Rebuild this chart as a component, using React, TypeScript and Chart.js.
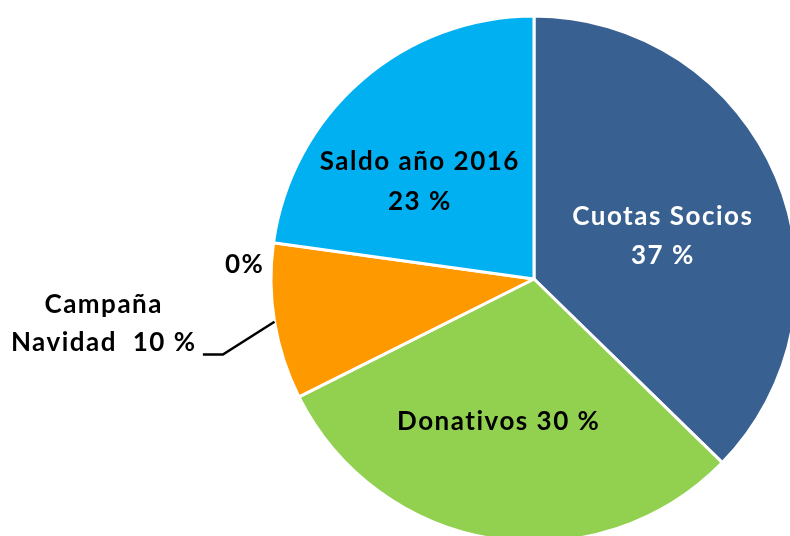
import React, { useEffect, useRef } from "react";
import { Chart, registerables } from "chart.js";

Chart.register(...registerables);

const CATEGORIES = ["Cuotas Socios", "Donativos", "Campaña Navidad", "Otros", "Saldo año 2016"];
const VALUES = [37.3, 30.3, 9.6, 0, 22.8];
const COLORS = ["#386090", "#92D050", "#FF9900", "#A6A6A6", "#00B0F0"];
const LABEL_LINES = [
  ["Cuotas Socios", "37 %"],
  ["Donativos 30 %"],
  ["Campaña", "Navidad  10 %"],
  ["0%"],
  ["Saldo año 2016", "23 %"],
];
const LABEL_COLORS = ["#FFFFFF", "#000000", "#000000", "#000000", "#000000"];

// label placement relative to pie centre, in units of the radius
const LABEL_LAYOUT = [
  { fx: 0.487, fy: -0.205, lh: 39 },
  { fx: -0.137, fy: 0.574, lh: 38 },
  { fx: -1.639, fy: 0.129, lh: 38 },
  { fx: -1.103, fy: -0.023, lh: 38 },
  { fx: -0.437, fy: -0.414, lh: 40 },
];

const FONT = "bold 26px Lato, 'Open Sans', sans-serif";

const labelPlugin = {
  id: "pieLabels",
  afterDraw(chart: any) {
    const meta = chart.getDatasetMeta(0);
    const first = meta.data[0];
    if (!first) return;
    const cx = first.x;
    const cy = first.y;
    const R = first.outerRadius;
    const ctx = chart.ctx;
    ctx.save();
    ctx.font = FONT;
    (ctx as any).letterSpacing = "1.5px";
    ctx.textAlign = "center";
    ctx.textBaseline = "alphabetic";
    LABEL_LINES.forEach((lines, i) => {
      const lay = LABEL_LAYOUT[i];
      ctx.fillStyle = LABEL_COLORS[i];
      lines.forEach((t, j) => {
        ctx.fillText(t, cx + lay.fx * R + 0.75, cy + lay.fy * R + j * lay.lh);
      });
    });
    // leader line for Campaña Navidad
    const arc = meta.data[2];
    const mid = (arc.startAngle + arc.endAngle) / 2;
    const ex = cx + Math.cos(mid) * R;
    const ey = cy + Math.sin(mid) * R;
    const elbowX = cx - 1.183 * R;
    const elbowY = cy + 0.287 * R;
    ctx.strokeStyle = "#000000";
    ctx.lineWidth = 2.5;
    ctx.beginPath();
    ctx.moveTo(ex, ey);
    ctx.lineTo(elbowX, elbowY);
    ctx.lineTo(cx - 1.259 * R, elbowY);
    ctx.stroke();
    ctx.restore();
  },
};

export default function App() {
  const ref = useRef<HTMLCanvasElement>(null);
  useEffect(() => {
    if (!ref.current) return;
    const chart = new Chart(ref.current, {
      type: "pie",
      data: {
        labels: CATEGORIES,
        datasets: [
          {
            data: VALUES,
            backgroundColor: COLORS,
            borderColor: "#FFFFFF",
            borderWidth: 3,
          },
        ],
      },
      options: {
        responsive: false,
        animation: false,
        radius: 263,
        layout: { padding: { left: 270, right: 12, top: 15, bottom: 17 } },
        plugins: {
          legend: { display: false },
          tooltip: { enabled: false },
        },
      } as any,
      plugins: [labelPlugin],
    });
    return () => chart.destroy();
  }, []);
  return (
    <div
      style={{
        position: "fixed",
        left: 0,
        top: 0,
        width: 790,
        height: 536,
        overflow: "hidden",
        background: "#FFFFFF",
      }}
    >
      <canvas ref={ref} width={810} height={560} style={{ display: "block" }} />
    </div>
  );
}
